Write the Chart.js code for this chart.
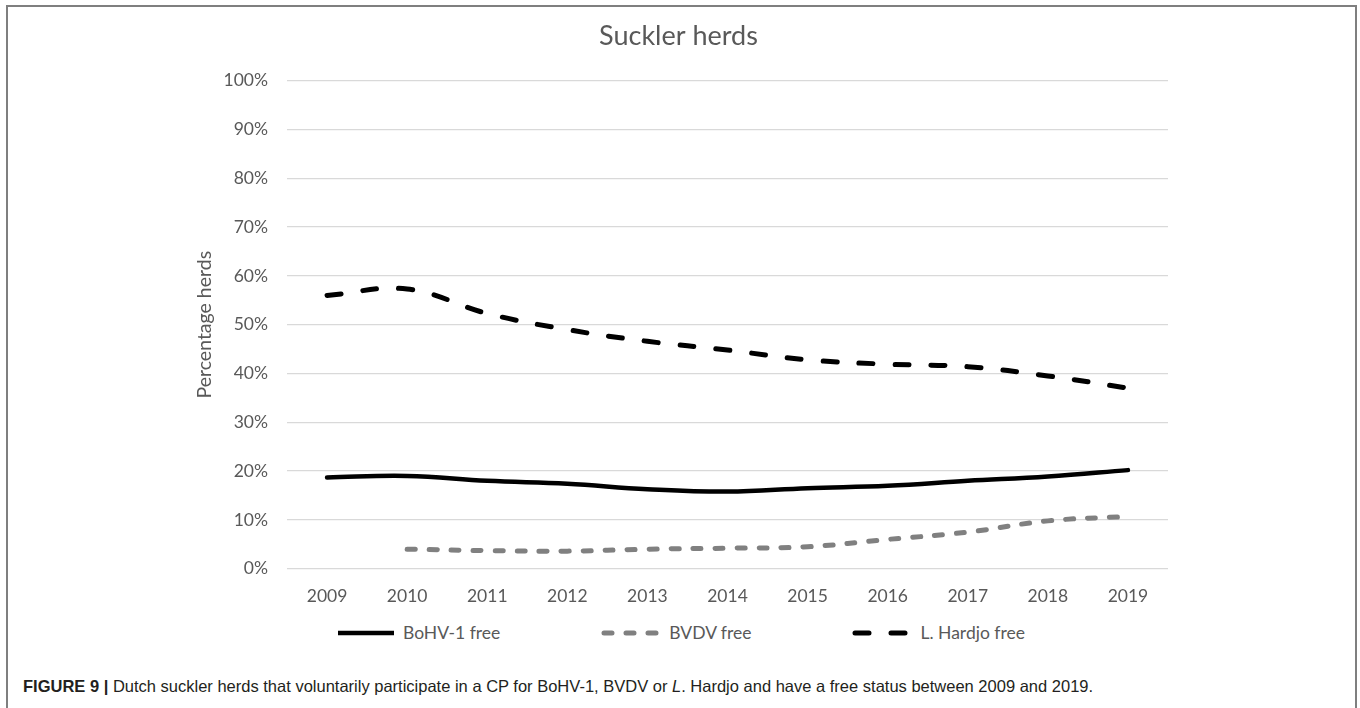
<!DOCTYPE html>
<html><head><meta charset="utf-8">
<script src="https://cdn.jsdelivr.net/npm/chart.js@4.4.1/dist/chart.umd.min.js"></script>
<style>
html,body{margin:0;padding:0;background:#fff;width:1360px;height:708px;overflow:hidden;}
#frame{position:absolute;left:6px;top:5px;width:1351px;height:720px;box-sizing:border-box;border:2px solid #7f7f7f;border-bottom:none;}
#c{position:absolute;left:0;top:0;}
#legend{position:absolute;left:335px;top:622px;display:flex;align-items:center;gap:101px;font-family:Lato,sans-serif;font-size:17.5px;color:#595959;white-space:nowrap;}
.item{display:flex;align-items:center;}
.item svg{margin-right:6px;}
#caption{position:absolute;left:23px;top:677px;font-family:"Liberation Sans",Arial,sans-serif;font-size:16.5px;color:#231f20;white-space:nowrap;}
</style></head><body>
<div id="frame"></div>
<canvas id="c" width="1360" height="612"></canvas>
<div id="legend"></div>
<div id="caption"><b>FIGURE 9 |</b> Dutch suckler herds that voluntarily participate in a CP for BoHV-1, BVDV or <i>L</i>. Hardjo and have a free status between 2009 and 2019.</div>
<script>
const years = ['2009','2010','2011','2012','2013','2014','2015','2016','2017','2018','2019'];
const bohv1Free = [18.7, 19.0, 18.0, 17.4, 16.3, 15.8, 16.5, 17.0, 18.0, 18.9, 20.2];
const bvdvFree = [null, 4.0, 3.7, 3.6, 4.0, 4.2, 4.5, 6.0, 7.5, 9.8, 10.7];
const hardjoFree = [56.0, 57.3, 52.3, 49.0, 46.6, 44.8, 42.8, 41.9, 41.4, 39.5, 37.0];
const seriesNames = ['BoHV-1 free', 'BVDV free', 'L. Hardjo free'];
const yTickValues = [0, 10, 20, 30, 40, 50, 60, 70, 80, 90, 100];

function build() {
  const ctx = document.getElementById('c').getContext('2d');
  const chart = new Chart(ctx, {
    type: 'line',
    data: {
      labels: years,
      datasets: [
        {label: seriesNames[0], data: bohv1Free, borderColor: '#000000', borderWidth: 4.5, borderDash: [], borderCapStyle: 'round', tension: 0.4, pointRadius: 0},
        {label: seriesNames[1], data: bvdvFree, borderColor: '#808080', borderWidth: 5, borderDash: [8, 14], borderCapStyle: 'round', tension: 0.4, pointRadius: 0},
        {label: seriesNames[2], data: hardjoFree, borderColor: '#000000', borderWidth: 5, borderDash: [14, 22], borderCapStyle: 'round', tension: 0.4, pointRadius: 0}
      ]
    },
    options: {
      responsive: false, animation: false, devicePixelRatio: 1,
      layout: {padding: {left: 189, right: 192, top: 0, bottom: 3.3}},
      plugins: {
        legend: {display: false},
        tooltip: {enabled: false},
        title: {display: true, text: 'Suckler herds', color: '#595959',
          font: {family: 'Lato', size: 27, weight: 'normal'}, padding: {top: 20.5, bottom: 27.8}}
      },
      scales: {
        x: {
          offset: true,
          grid: {display: false},
          border: {display: false},
          ticks: {color: '#595959', font: {family: 'Lato', size: 17.5}, padding: 9, maxRotation: 0, autoSkip: false},
          afterFit: s => { s.height = 40; }
        },
        y: {
          min: 0, max: 100,
          afterBuildTicks: s => { s.ticks = yTickValues.map(v => ({value: v})); },
          ticks: {color: '#595959', font: {family: 'Lato', size: 17.5}, padding: 19, callback: v => v + '%'},
          grid: {color: '#d9d9d9', lineWidth: 1.3, drawTicks: false},
          border: {display: false},
          title: {display: true, text: 'Percentage herds', color: '#595959', font: {family: 'Lato', size: 19.5}},
          afterFit: s => { s.width = 98; }
        }
      }
    }
  });

  const leg = document.getElementById('legend');
  const svgNS = 'http://www.w3.org/2000/svg';
  chart.data.datasets.forEach(ds => {
    const item = document.createElement('div');
    item.className = 'item';
    const svg = document.createElementNS(svgNS, 'svg');
    svg.setAttribute('width', '62');
    svg.setAttribute('height', '12');
    const ln = document.createElementNS(svgNS, 'line');
    ln.setAttribute('x1', '3'); ln.setAttribute('x2', '59');
    ln.setAttribute('y1', '6'); ln.setAttribute('y2', '6');
    ln.setAttribute('stroke', ds.borderColor);
    ln.setAttribute('stroke-width', ds.borderWidth);
    ln.setAttribute('stroke-linecap', ds.borderDash.length ? 'round' : 'butt');
    if (ds.borderDash.length) ln.setAttribute('stroke-dasharray', ds.borderDash.join(' '));
    svg.appendChild(ln);
    const span = document.createElement('span');
    span.textContent = ds.label;
    item.appendChild(svg);
    item.appendChild(span);
    leg.appendChild(item);
  });
}

if (document.fonts && document.fonts.load) {
  Promise.all([document.fonts.load('17px Lato'), document.fonts.load('16px "Liberation Sans"')]).then(build, build);
} else { build(); }
</script>
</body></html>
